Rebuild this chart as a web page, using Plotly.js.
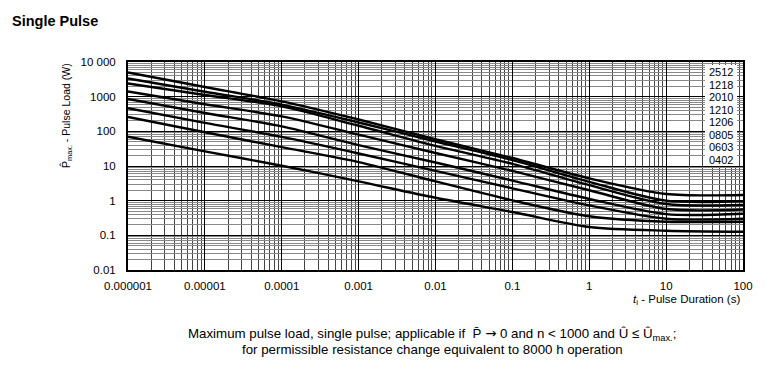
<!DOCTYPE html>
<html>
<head>
<meta charset="utf-8">
<script src="https://cdn.plot.ly/plotly-3.0.1.min.js"></script>
<style>html,body{margin:0;padding:0;background:#fff;}#chart{width:766px;height:374px;}</style>
</head>
<body>
<div id="chart"></div>
<script>
// ---- data ----
const durations = [1e-6, 1e-5, 1e-4, 1e-3, 1e-2, 1e-1, 1, 10, 100];
const sizes = ['2512', '1218', '2010', '1210', '1206', '0805', '0603', '0402'];
const p2512 = [5000, 1900, 730, 219, 59, 17, 4.4, 1.56, 1.46];
const p1218 = [3340, 1390, 590, 180, 51, 14.8, 3.5, 1.0, 0.96];
const p2010 = [2400, 1120, 524, 145, 38, 11.5, 2.8, 0.80, 0.75];
const p1210 = [1410, 606, 270, 80, 23.7, 7.2, 2.0, 0.575, 0.556];
const p1206 = [857, 338, 139, 40, 12.6, 3.8, 1.12, 0.41, 0.42];
const p0805 = [462, 176, 69, 23, 7.2, 2.27, 0.73, 0.30, 0.30];
const p0603 = [259, 94, 35, 13, 3.6, 1.02, 0.354, 0.247, 0.247];
const p0402 = [70, 26.5, 10.2, 3.6, 1.21, 0.47, 0.174, 0.136, 0.127];
const xTickVals = [1e-6, 1e-5, 1e-4, 1e-3, 1e-2, 1e-1, 1, 10, 100];
const xTickText = ['0.000001', '0.00001', '0.0001', '0.001', '0.01', '0.1', '1', '10', '100'];
const yTickVals = [0.01, 0.1, 1, 10, 100, 1000, 10000];
const yTickText = ['0.01', '0.1', '1', '10', '100', '1000', '10 000'];
const captionLines = [
  'Maximum pulse load, single pulse; applicable if  P\u0304 <span style="font-family:DejaVu Sans">\u2192</span> 0 and n < 1000 and \u00DB \u2264 \u00DB<sub>max.</sub>;',
  'for permissible resistance change equivalent to 8000 h operation'
];

const series = [p2512, p1218, p2010, p1210, p1206, p0805, p0603, p0402];
const FONT = 'Liberation Sans, Arial, Helvetica, sans-serif';

function minorVals(lo, hi) {
  const v = [];
  for (let e = lo; e < hi; e++) for (let m = 2; m <= 9; m++) v.push(m * Math.pow(10, e));
  return v;
}

const traces = series.map((ys, i) => ({
  x: durations, y: ys, type: 'scatter', mode: 'lines', name: sizes[i],
  line: {color: '#000', width: 2.4, shape: 'spline', smoothing: 0.8},
  hoverinfo: 'skip', showlegend: false
}));

// plot area in px: left 128, right 743, top 62, bottom 270
const L = 128, R = 743, T = 62, B = 270;
const px2x = p => (p - L) / (R - L);
const px2y = p => (B - p) / (B - T);

const annotations = [
  {text: '<i>t</i><sub>i</sub> - Pulse Duration (s)', xref: 'paper', yref: 'paper',
   x: px2x(742), y: px2y(300), xanchor: 'right', yanchor: 'middle', showarrow: false,
   font: {family: FONT, size: 11.5, color: '#000'}},
  {text: 'P\u0302<sub>max.</sub> - Pulse Load (W)', xref: 'paper', yref: 'paper',
   x: px2x(66), y: px2y(116), xanchor: 'center', yanchor: 'middle', textangle: -90, showarrow: false,
   font: {family: FONT, size: 10.5, color: '#000'}}
];
captionLines.forEach((t, i) => {
  annotations.push({text: t, xref: 'paper', yref: 'paper', x: px2x(432), y: px2y(334 + i * 15.5),
    xanchor: 'center', yanchor: 'middle', showarrow: false,
    font: {family: FONT, size: 13.3, color: '#000'}});
});
sizes.forEach((s, i) => {
  annotations.push({text: s, xref: 'paper', yref: 'paper', x: px2x(721), y: px2y(72.3 + i * 12.53),
    xanchor: 'center', yanchor: 'middle', showarrow: false,
    font: {family: FONT, size: 11, color: '#000'}});
});

const layout = {
  width: 766, height: 374,
  margin: {l: L, r: 766 - R, t: T, b: 374 - B, pad: 0},
  paper_bgcolor: '#fff', plot_bgcolor: '#fff',
  font: {family: FONT, color: '#000'},
  title: {text: '<b>Single Pulse</b>', xref: 'container', yref: 'container',
    x: 12 / 766, xanchor: 'left', y: 1 - 21 / 374, yanchor: 'middle',
    font: {family: FONT, size: 14.5, color: '#000'}},
  xaxis: {type: 'log', range: [-6, 2], tickmode: 'array', tickvals: xTickVals, ticktext: xTickText,
    ticks: '', ticklabelstandoff: 4, tickfont: {size: 11.5, color: '#000'},
    showgrid: true, gridcolor: '#000', gridwidth: 1, zeroline: false,
    showline: true, mirror: true, linecolor: '#000', linewidth: 2,
    minor: {tickmode: 'array', tickvals: minorVals(-6, 2), showgrid: true, gridcolor: '#444', gridwidth: 1, ticks: ''}},
  yaxis: {type: 'log', range: [-2, 4], tickmode: 'array', tickvals: yTickVals, ticktext: yTickText,
    ticks: '', ticklabelstandoff: 8, tickfont: {size: 11.5, color: '#000'},
    showgrid: true, gridcolor: '#000', gridwidth: 1, zeroline: false,
    showline: true, mirror: true, linecolor: '#000', linewidth: 2,
    minor: {tickmode: 'array', tickvals: minorVals(-2, 4), showgrid: true, gridcolor: '#888', gridwidth: 1, ticks: ''}},
  shapes: [{type: 'rect', xref: 'paper', yref: 'paper', x0: px2x(705), x1: px2x(737), y0: px2y(166), y1: px2y(65),
    fillcolor: '#fff', line: {width: 0}, layer: 'above'}],
  annotations: annotations,
  showlegend: false
};

Plotly.newPlot('chart', traces, layout, {staticPlot: true, displayModeBar: false});
</script>
</body>
</html>
